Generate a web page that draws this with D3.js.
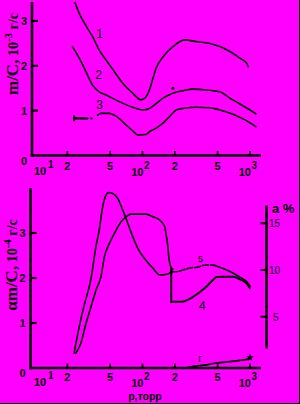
<!DOCTYPE html>
<html><head><meta charset="utf-8">
<script src="https://cdn.jsdelivr.net/npm/d3@7"></script>
<style>body{margin:0;background:#ff00ff;overflow:hidden}svg{display:block}</style>
</head><body>
<svg id="c" width="300" height="404"></svg>
<script>
// ---------- data ----------
const xTickValues = [20, 50, 100, 200, 500, 1000];
const xTickLabels = ["2", "5", "10^2", "2", "5", "10^3"];
const yTopTicks = [0, 1, 2, 3];
const yBotTicks = [0, 1, 2, 3];
const aTicks = [5, 10, 15];

// top panel: m/C, 10^-3 g/s  [pressure (torr), value]
const curve1 = [[23.6,3.41],[25.8,3.17],[30.2,2.87],[34.3,2.65],[39.6,2.35],[45.8,2.13],[54.8,1.87],[65.5,1.61],[81,1.39],[97,1.24],[108,1.31],[116,1.46],[125,1.72],[134,1.95],[155,2.2],[192,2.43],[247,2.58],[318,2.54],[423,2.5],[524,2.43],[650,2.32],[806,2.17],[930,2.06],[964,1.98]];
const curve2 = [[22.3,2.43],[25.8,2.17],[29.8,1.87],[34.3,1.57],[39.6,1.42],[45.8,1.35],[61,1.2],[81,1.075],[100.6,1.015],[116,1.05],[134,1.16],[155,1.28],[192,1.39],[238,1.445],[295,1.48],[394,1.46],[524,1.42],[650,1.28],[806,1.15],[1000,1.015],[1138,0.93]];
const curve2Marks = [[192,1.5]];
const curve3 = [[38.2,0.9],[41.1,0.94],[49.2,0.94],[54.8,0.9],[63.2,0.79],[70.4,0.68],[81.2,0.55],[90.4,0.46],[108,0.47],[116,0.53],[134,0.61],[155,0.72],[179,0.87],[206,1.015],[238,1.05],[318,1.075],[423,1.066],[524,1.015],[674,0.93],[806,0.85],[1000,0.73],[1138,0.64]];
const curve3Lead = [[23.1,0.83],[30.8,0.83]];
const curve3Marks = [[33.6,0.83]];

// bottom panel: am/C, 10^-4 g/s
const curveA = [[23.1,0.33],[25.8,0.92],[28.7,1.4],[32,1.81],[33.2,1.99],[36.9,2.7],[39.6,3.07],[42.6,3.58],[45.8,3.84],[48.4,3.9],[52.8,3.88],[58.8,3.77],[65.5,3.51],[72.9,3.22],[81.2,2.92],[90.4,2.66],[104,2.44],[125,2.22],[144,2.07],[172,2.09],[185,2.14]];
const curve5Dashed = [[185,2.14],[206,2.14],[238,2.18],[275,2.22],[318,2.24],[394,2.29],[471,2.28]];
const curve5 = [[471,2.28],[563,2.21],[694,2.11],[806,2.02],[930,1.92],[1000,1.82]];
const curveB = [[24,0.33],[26.7,0.55],[29.8,0.99],[33.2,1.36],[36.9,1.73],[41.1,2.03],[44.2,2.47],[49.2,2.77],[54.8,2.99],[63.2,3.25],[70.4,3.36],[78.4,3.42],[108,3.42],[125,3.36],[144,3.29],[161,3.14],[166,2.96],[172,2.7],[176,2.44],[185,2.22]];
const curve4 = [[185,1.47],[230,1.47],[295,1.58],[394,1.81],[454,1.96],[489,2.02],[563,2.03],[698,2.03],[806,1.97],[930,1.88],[1000,1.77]];
const curveG = [[250,0.0],[306,0.04],[394,0.07],[454,0.1],[650,0.14],[751,0.16],[930,0.19],[1000,0.21]];
const junctionMarks = [[188,2.2]];

// ---------- drawing ----------
const svg = d3.select("#c");
svg.append("rect").attr("width",300).attr("height",404).attr("fill","#ff00ff");
svg.append("line").attr("x1",299.5).attr("x2",299.5).attr("y1",0).attr("y2",404).attr("stroke","#000");
svg.append("line").attr("x1",0).attr("x2",300).attr("y1",403.5).attr("y2",403.5).attr("stroke","#000");

const x = d3.scaleLog().domain([10,1000]).range([35,250]);
const yTop = d3.scaleLinear().domain([0,3]).range([155.5,21]);
const yBot = d3.scaleLinear().domain([0,3]).range([368,233]);
const yA = d3.scaleLinear().domain([5,15]).range([316.7,223.3]);

const numFont = "'Liberation Sans', Arial, sans-serif";
const serif = "'Liberation Serif', 'Times New Roman', serif";

function drawPanel(ys, yTicks, axisX, axisTop, labelBaseline) {
  const g = svg.append("g");
  const y0 = ys(0);
  g.append("line").attr("x1",axisX).attr("x2",axisX).attr("y1",axisTop).attr("y2",y0+1.2)
    .attr("stroke","#000").attr("stroke-width",2.6);
  g.append("line").attr("x1",axisX-1.3).attr("x2",261).attr("y1",y0).attr("y2",y0)
    .attr("stroke","#000").attr("stroke-width",2.6);
  yTicks.filter(t=>t>0).forEach(t=>{
    g.append("line").attr("x1",axisX).attr("x2",axisX+6).attr("y1",ys(t)).attr("y2",ys(t))
      .attr("stroke","#000").attr("stroke-width",2.2);
  });
  yTicks.forEach(t=>{
    g.append("text").attr("x",axisX-5).attr("y", t===0 ? y0+9 : ys(t)+4)
      .attr("text-anchor","end").attr("font-family",numFont).attr("font-size",11)
      .attr("font-weight","bold").text(t);
  });
  xTickValues.forEach((v,i)=>{
    g.append("line").attr("x1",x(v)).attr("x2",x(v)).attr("y1",y0).attr("y2",y0-4.5)
      .attr("stroke","#000").attr("stroke-width",1.8);
    const lab = xTickLabels[i];
    if (lab.includes("^")) {
      const [b,s] = lab.split("^");
      g.append("text").attr("x",x(v)+1).attr("y",labelBaseline+6).attr("text-anchor","end")
        .attr("font-family",numFont).attr("font-size",11).attr("font-weight","bold").text(b);
      g.append("text").attr("x",x(v)+1.5).attr("y",labelBaseline-1).attr("text-anchor","start")
        .attr("font-family",numFont).attr("font-size",10).attr("font-weight","bold").text(s);
    } else {
      g.append("text").attr("x",x(v)).attr("y",labelBaseline).attr("text-anchor","middle")
        .attr("font-family",numFont).attr("font-size",11).attr("font-weight","bold").text(lab);
    }
  });
  g.append("text").attr("x",x(10)-1).attr("y",labelBaseline+5).attr("text-anchor","start")
    .attr("font-family",numFont).attr("font-size",11).attr("font-weight","bold").text("10");
  g.append("text").attr("x",x(10)+13).attr("y",labelBaseline-2).attr("text-anchor","start")
    .attr("font-family",numFont).attr("font-size",10).attr("font-weight","bold").text("1");
  return g;
}

drawPanel(yTop, yTopTicks, 32, 2, 170);
drawPanel(yBot, yBotTicks, 30.5, 188, 381);

// right axis (a %)
svg.append("line").attr("x1",266.5).attr("x2",266.5).attr("y1",yA(16.9)).attr("y2",yA(1.6))
  .attr("stroke","#000").attr("stroke-width",2.6);
aTicks.forEach(t=>{
  svg.append("line").attr("x1",260.5).attr("x2",266.5).attr("y1",yA(t)).attr("y2",yA(t))
    .attr("stroke","#000").attr("stroke-width",2);
  svg.append("text").attr("x",t<10?273:269).attr("y",yA(t)+4).attr("font-family",numFont)
    .attr("font-size",10).text(t);
});
svg.append("text").attr("x",272).attr("y",213).attr("font-family",numFont).attr("font-size",13)
  .attr("font-weight","bold").text("a %");

function yTitle(cx, cy, parts) {
  const t = svg.append("text").attr("transform",`translate(${cx},${cy}) rotate(-90)`)
    .attr("text-anchor","middle").attr("font-family",serif).attr("font-weight","bold");
  parts.forEach(p=>{
    const ts = t.append("tspan").attr("font-size",p.size).text(p.text);
    if (p.dy) ts.attr("dy",p.dy);
  });
}
yTitle(18, 54, [{text:"m/C,",size:17},{text:" 10",size:14},{text:"-3",size:11,dy:-6},{text:" г/с",size:14,dy:6}]);
yTitle(17, 265, [{text:"αm/C,",size:17},{text:" 10",size:14},{text:"-4",size:11,dy:-6},{text:" г/с",size:14,dy:6}]);

svg.append("text").attr("x",145).attr("y",400).attr("text-anchor","middle").attr("font-family",numFont)
  .attr("font-size",10.5).attr("font-weight","bold").text("р,торр");

// curves
const lineTop = d3.line().x(d=>x(d[0])).y(d=>yTop(d[1])).curve(d3.curveMonotoneX);
const lineBot = d3.line().x(d=>x(d[0])).y(d=>yBot(d[1])).curve(d3.curveMonotoneX);
const straightBot = d3.line().x(d=>x(d[0])).y(d=>yBot(d[1]));
const straightTop = d3.line().x(d=>x(d[0])).y(d=>yTop(d[1]));

function path(d, gen, w, dash) {
  const p = svg.append("path").attr("d",gen(d)).attr("fill","none").attr("stroke","#000")
    .attr("stroke-width",w||1.6).attr("stroke-linejoin","round").attr("stroke-linecap","round");
  if (dash) p.attr("stroke-dasharray",dash);
}
path(curve1, lineTop);
path(curve2, lineTop);
path(curve3, lineTop);
path(curve3Lead, straightTop, 2.2);
svg.append("line").attr("x1",x(curve3Lead[0][0])).attr("x2",x(curve3Lead[0][0]))
  .attr("y1",yTop(curve3Lead[0][1])-3).attr("y2",yTop(curve3Lead[0][1])+3).attr("stroke","#000").attr("stroke-width",2);
curve3Marks.forEach(d=>svg.append("circle").attr("cx",x(d[0])).attr("cy",yTop(d[1])).attr("r",1.3).attr("fill","#000"));
curve2Marks.forEach(d=>svg.append("circle").attr("cx",x(d[0])).attr("cy",yTop(d[1])).attr("r",1.6).attr("fill","#000"));

path(curveA, lineBot);
path(curveB, lineBot);
path([curveB[curveB.length-1], curve4[0]], straightBot, 2);
path(curve4, lineBot, 2);
path(curve5Dashed, lineBot, 1.6, "6,2");
path(curve5, lineBot);
path(curveG, lineBot, 1.7);
junctionMarks.forEach(d=>svg.append("circle").attr("cx",x(d[0])).attr("cy",yBot(d[1])).attr("r",1.6).attr("fill","#000"));
const last = curveG[curveG.length-1];
svg.append("path").attr("transform",`translate(${x(last[0])},${yBot(last[1])-1})`)
  .attr("d",d3.symbol().type(d3.symbolStar).size(20)()).attr("fill","#000");

function lab(t, p, v, ys, size) {
  svg.append("text").attr("x",x(p)).attr("y",ys(v)).attr("text-anchor","middle")
    .attr("font-family",numFont).attr("font-size",size||12).text(t);
}
lab("1", 39.8, 2.62, yTop);
lab("2", 39, 1.7, yTop);
lab("3", 39.8, 1.03, yTop);
lab("4", 361, 1.29, yBot);
lab("5", 346, 2.35, yBot, 9);
lab("г", 343, 0.13, yBot, 10);
</script>
</body></html>
